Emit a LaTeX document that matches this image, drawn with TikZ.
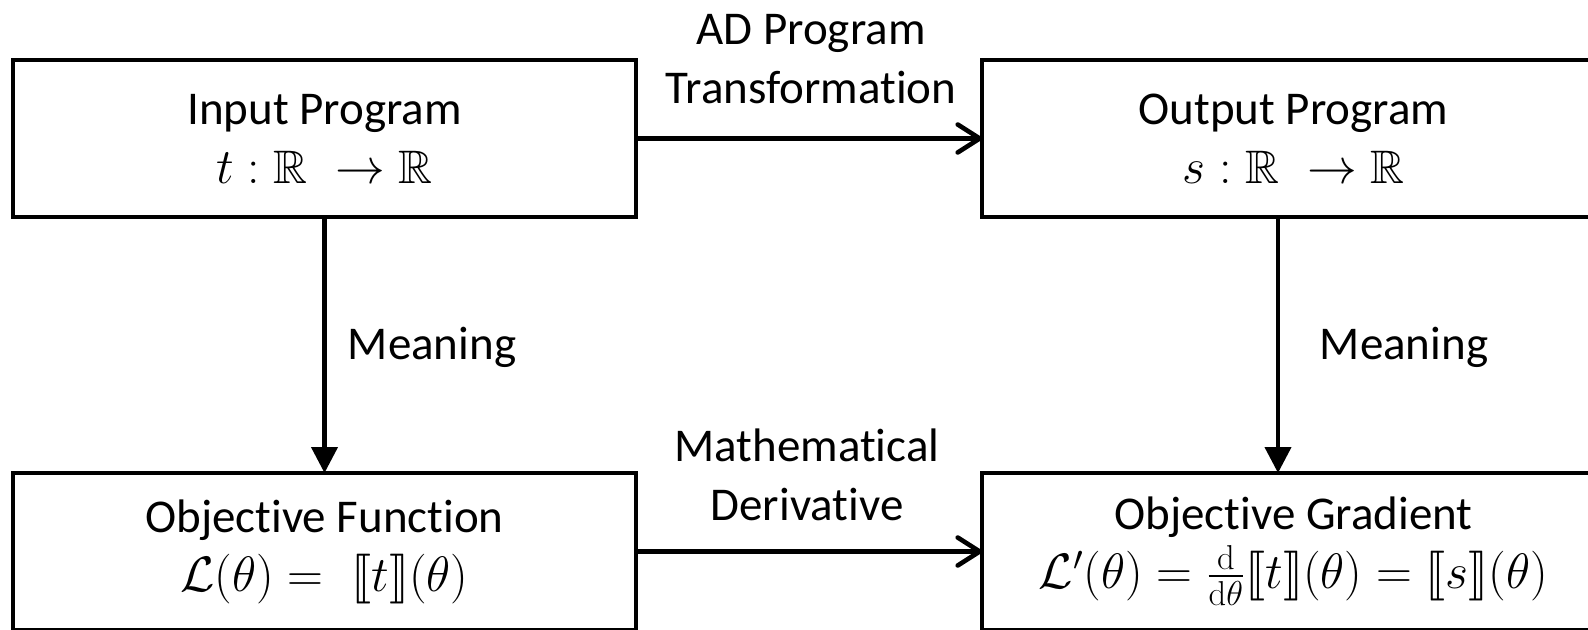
\documentclass[tikz,border=0pt]{standalone}
\usepackage{amsmath}
\usepackage{amssymb}
\usepackage{stmaryrd}
\usepackage[no-math]{fontspec}
\setmainfont{Carlito}[Ligatures={NoCommon,NoRequired,NoContextual,NoRare},Contextuals=NoAlternate]
\usetikzlibrary{arrows.meta}

\newcommand{\diagfont}{\fontsize{23.5}{29.5}\selectfont}

\begin{document}
\begin{tikzpicture}[
  x=0.5pt, y=-0.5pt,
  box/.style={draw, line width=2pt, minimum width=311.5pt, minimum height=78.5pt,
              inner sep=0pt, outer sep=0pt, align=center, font=\diagfont},
  lbl/.style={align=center, font=\diagfont, inner sep=0pt},
  link/.style={line width=2.1pt},
  barb/.style={-{Straight Barb[length=11pt,width=14pt,round,line width=2.3pt]}},
  tri/.style={-{Triangle[length=13pt,width=13pt]}}
]
\useasboundingbox (0,0) rectangle (1588,630);
\clip (0,0) rectangle (1588,630);

% the four boxes
\node[box] (inp) at (324.5,138.5) {Input Program\\ $t:\mathbb{R}\;\to\mathbb{R}$};
\node[box] (out) at (1293.5,138.5) {Output Program\\ $s:\mathbb{R}\;\to\mathbb{R}$};
\node[box] (obj) at (324.5,551.5) {Objective Function\\ $\mathcal{L}(\theta) =\; \llbracket t\rrbracket(\theta)$};
\node[box] (grad) at (1293.5,551.5) {Objective Gradient\\ $\mathcal{L}'(\theta) = \tfrac{\mathrm{d}}{\mathrm{d}\theta}\llbracket t\rrbracket(\theta) = \llbracket s\rrbracket(\theta)$};

% connectors
\coordinate (outdown) at ([xshift=-7.75pt]out.south);
\coordinate (gradup) at ([xshift=-7.75pt]grad.north);
\draw[link,barb] (inp.east) -- (out.west);
\draw[link,barb] (obj.east) -- (grad.west);
\draw[link,tri] (inp.south) -- (obj.north);
\draw[link,tri] (outdown) -- (gradup);

% labels
\node[lbl] (adlbl) at (811,59) {AD Program\\ Transformation};
\node[lbl] (mlbl) at (807,475) {Mathematical\\ Derivative};
\node[lbl] (m1) at (432,347) {Meaning};
\node[lbl] (m2) at (1404,347) {Meaning};
\end{tikzpicture}
\end{document}
